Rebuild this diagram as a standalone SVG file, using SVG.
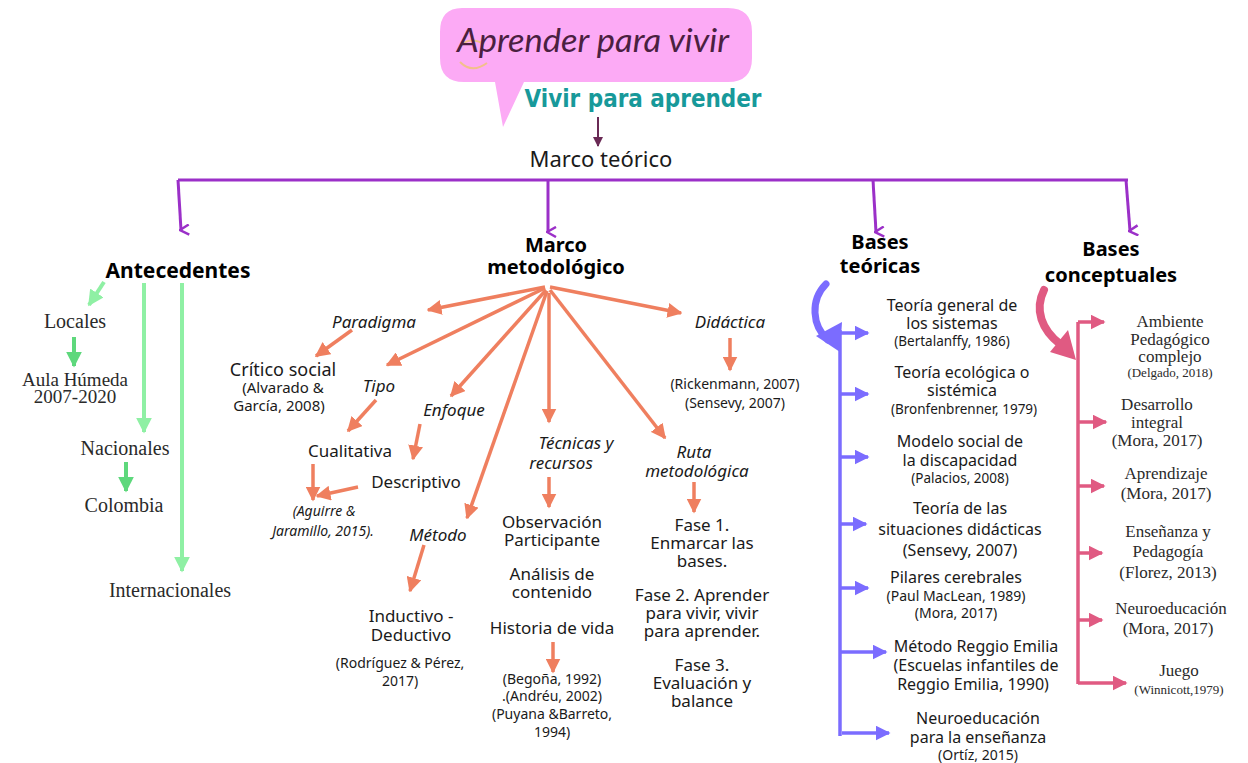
<svg xmlns="http://www.w3.org/2000/svg" width="1248" height="763" viewBox="0 0 1248 763">
<defs>
<style>
.s{font-family:"Noto Sans","Open Sans",sans-serif;fill:#1a1a1a;text-anchor:middle}
.b{font-family:"Noto Sans","Open Sans",sans-serif;font-weight:bold;fill:#000;text-anchor:middle}
.i{font-style:italic}
.sl{font-family:"Liberation Serif","DejaVu Serif",serif;fill:#2a2a2a;text-anchor:middle}
.pu{stroke:#9b30c8;stroke-width:3;fill:none}
.gl{stroke:#8ff0a4;stroke-width:4;fill:none}
.gd{stroke:#5ed87c;stroke-width:4;fill:none}
.sa{stroke:#ef7f5f;stroke-width:3.5;fill:none}
.bl{stroke:#7b6cff;stroke-width:3.5;fill:none}
.pk{stroke:#e05a82;stroke-width:3.5;fill:none}
</style>
<marker id="mpu" viewBox="0 0 12 12" refX="6" refY="10" markerWidth="12" markerHeight="12" markerUnits="userSpaceOnUse" orient="auto-start-reverse">
<path d="M1,2 L6,11 L11,2" fill="none" stroke="#9b30c8" stroke-width="2.5"/>
</marker>
<marker id="mdp" viewBox="0 0 10 10" refX="9" refY="5" markerWidth="10" markerHeight="10" markerUnits="userSpaceOnUse" orient="auto">
<path d="M0,0 L10,5 L0,10 Z" fill="#6a2a55"/>
</marker>
<marker id="mgl" viewBox="0 0 10 10" refX="9" refY="5" markerWidth="16" markerHeight="16" markerUnits="userSpaceOnUse" orient="auto">
<path d="M0,0 L10,5 L0,10 Z" fill="#8ff0a4"/>
</marker>
<marker id="mgd" viewBox="0 0 10 10" refX="9" refY="5" markerWidth="16" markerHeight="16" markerUnits="userSpaceOnUse" orient="auto">
<path d="M0,0 L10,5 L0,10 Z" fill="#5ed87c"/>
</marker>
<marker id="msa" viewBox="0 0 10 10" refX="9" refY="5" markerWidth="15" markerHeight="15" markerUnits="userSpaceOnUse" orient="auto">
<path d="M0,0 L10,5 L0,10 Z" fill="#ef7f5f"/>
</marker>
<marker id="mbl" viewBox="0 0 10 10" refX="9" refY="5" markerWidth="15" markerHeight="15" markerUnits="userSpaceOnUse" orient="auto">
<path d="M0,0 L10,5 L0,10 Z" fill="#7b6cff"/>
</marker>
<marker id="mpk" viewBox="0 0 10 10" refX="9" refY="5" markerWidth="15" markerHeight="15" markerUnits="userSpaceOnUse" orient="auto">
<path d="M0,0 L10,5 L0,10 Z" fill="#e05a82"/>
</marker>
</defs>
<rect width="1248" height="763" fill="#ffffff"/>

<g id="title">
<path d="M462,8 H728 Q752,8 752,32 V58 Q752,82 728,82 H524 L503,127 L495,82 H464 Q440,82 440,58 V32 Q440,8 462,8 Z" fill="#fcaaf5"/>
<path d="M460,46 Q470,36 484,44" fill="none" stroke="#f2c08a" stroke-width="2"/>
<path d="M460,62 Q472,74 487,63" fill="none" stroke="#f2c08a" stroke-width="2"/>
<text x="593" y="52" font-family="Lato,'Noto Sans',sans-serif" font-style="italic" font-size="32" fill="#4a2040" text-anchor="middle" textLength="272" lengthAdjust="spacingAndGlyphs">Aprender para vivir</text>
<text x="643" y="107" font-family="'DejaVu Sans',sans-serif" font-weight="bold" font-size="24" fill="#17999a" text-anchor="middle" textLength="237" lengthAdjust="spacingAndGlyphs">Vivir para aprender</text>
</g>

<g id="marco-teorico">
<text class="s" x="601" y="167" font-size="22">Marco teórico</text>
</g>

<g id="connectors">
<line x1="598" y1="117" x2="598" y2="146" stroke="#6a2a55" stroke-width="2" marker-end="url(#mdp)"/>
<path class="pu" d="M178,180 H1128"/>
<path class="pu" d="M178,180 L181,230" marker-end="url(#mpu)"/>
<path class="pu" d="M548,180 L548,232" marker-end="url(#mpu)"/>
<path class="pu" d="M873,180 L876,232" marker-end="url(#mpu)"/>
<path class="pu" d="M1126,180 L1130,231" marker-end="url(#mpu)"/>

<line class="gl" x1="104" y1="282" x2="89" y2="305" marker-end="url(#mgl)"/>
<line class="gd" x1="74" y1="337" x2="74" y2="366" marker-end="url(#mgd)"/>
<line class="gl" x1="144" y1="283" x2="144" y2="432" marker-end="url(#mgl)"/>
<line class="gd" x1="126" y1="462" x2="126" y2="491" marker-end="url(#mgd)"/>
<line class="gl" x1="182" y1="283" x2="182" y2="571" marker-end="url(#mgl)"/>

<line class="sa" x1="545" y1="287" x2="428" y2="310" marker-end="url(#msa)"/>
<line class="sa" x1="545" y1="288" x2="387" y2="365" marker-end="url(#msa)"/>
<line class="sa" x1="546" y1="290" x2="451" y2="396" marker-end="url(#msa)"/>
<line class="sa" x1="547" y1="291" x2="467" y2="518" marker-end="url(#msa)"/>
<line class="sa" x1="549" y1="293" x2="549" y2="422" marker-end="url(#msa)"/>
<line class="sa" x1="550" y1="290" x2="665" y2="438" marker-end="url(#msa)"/>
<line class="sa" x1="550" y1="287" x2="681" y2="313" marker-end="url(#msa)"/>

<line class="sa" x1="352" y1="330" x2="316" y2="356" marker-end="url(#msa)"/>
<line class="sa" x1="376" y1="400" x2="348" y2="431" marker-end="url(#msa)"/>
<line class="sa" x1="420" y1="424" x2="413" y2="459" marker-end="url(#msa)"/>
<line class="sa" x1="313" y1="464" x2="313" y2="500" marker-end="url(#msa)"/>
<line class="sa" x1="358" y1="487" x2="317" y2="496" marker-end="url(#msa)"/>
<line class="sa" x1="424" y1="545" x2="410" y2="591" marker-end="url(#msa)"/>
<line class="sa" x1="549" y1="477" x2="549" y2="507" marker-end="url(#msa)"/>
<line class="sa" x1="553" y1="642" x2="553" y2="672" marker-end="url(#msa)"/>
<line class="sa" x1="694" y1="482" x2="694" y2="512" marker-end="url(#msa)"/>
<line class="sa" x1="730" y1="338" x2="730" y2="370" marker-end="url(#msa)"/>

<path d="M826,284 C810,300 812,326 828,340" fill="none" stroke="#7b6cff" stroke-width="7" stroke-linecap="round"/>
<path d="M816,336 L842,322 L840,352 Z" fill="#7b6cff"/>
<line class="bl" x1="840" y1="330" x2="840" y2="736"/>
<line class="bl" x1="840" y1="333" x2="868" y2="333" marker-end="url(#mbl)"/>
<line class="bl" x1="840" y1="394" x2="868" y2="394" marker-end="url(#mbl)"/>
<line class="bl" x1="840" y1="457" x2="868" y2="457" marker-end="url(#mbl)"/>
<line class="bl" x1="840" y1="524" x2="866" y2="524" marker-end="url(#mbl)"/>
<line class="bl" x1="840" y1="588" x2="868" y2="588" marker-end="url(#mbl)"/>
<line class="bl" x1="840" y1="652" x2="886" y2="652" marker-end="url(#mbl)"/>
<line class="bl" x1="842" y1="733" x2="889" y2="733" marker-end="url(#mbl)"/>

<path d="M1044,290 C1034,310 1042,330 1060,344" fill="none" stroke="#e05a82" stroke-width="8" stroke-linecap="round"/>
<path d="M1050,352 L1068,330 L1076,360 Z" fill="#e05a82"/>
<line class="pk" x1="1078" y1="322" x2="1078" y2="684"/>
<line class="pk" x1="1078" y1="322" x2="1104" y2="322" marker-end="url(#mpk)"/>
<line class="pk" x1="1078" y1="422" x2="1106" y2="422" marker-end="url(#mpk)"/>
<line class="pk" x1="1078" y1="486" x2="1104" y2="486" marker-end="url(#mpk)"/>
<line class="pk" x1="1078" y1="553" x2="1102" y2="553" marker-end="url(#mpk)"/>
<line class="pk" x1="1078" y1="620" x2="1102" y2="620" marker-end="url(#mpk)"/>
<line class="pk" x1="1078" y1="683" x2="1126" y2="683" marker-end="url(#mpk)"/>
</g>

<g id="antecedentes">
<text class="b" x="178" y="278" font-size="21">Antecedentes</text>
</g>
<g id="locales"><text class="sl" x="75" y="328" font-size="20">Locales</text></g>
<g id="aula-humeda">
<text class="sl" x="75" y="386" font-size="19">Aula Húmeda</text>
<text class="sl" x="75" y="403" font-size="19">2007-2020</text>
</g>
<g id="nacionales"><text class="sl" x="125" y="455" font-size="20">Nacionales</text></g>
<g id="colombia"><text class="sl" x="124" y="512" font-size="20">Colombia</text></g>
<g id="internacionales"><text class="sl" x="170" y="597" font-size="20">Internacionales</text></g>

<g id="marco-metodologico">
<text class="b" x="556" y="252" font-size="20">Marco</text>
<text class="b" x="556" y="274" font-size="20">metodológico</text>
</g>
<g id="paradigma"><text class="s i" x="374" y="328" font-size="17">Paradigma</text></g>
<g id="critico-social">
<text class="s" x="283" y="376" font-size="18">Crítico social</text>
<text class="s" x="283" y="393" font-size="15">(Alvarado &amp;</text>
<text class="s" x="279" y="411" font-size="15">García, 2008)</text>
</g>
<g id="tipo"><text class="s i" x="379" y="392" font-size="17">Tipo</text></g>
<g id="enfoque"><text class="s i" x="454" y="416" font-size="17">Enfoque</text></g>
<g id="cualitativa"><text class="s" x="350" y="457" font-size="17">Cualitativa</text></g>
<g id="descriptivo"><text class="s" x="416" y="488" font-size="17">Descriptivo</text></g>
<g id="aguirre">
<text class="s i" x="324" y="516" font-size="14">(Aguirre &amp;</text>
<text class="s i" x="323" y="536" font-size="14">Jaramillo, 2015).</text>
</g>
<g id="metodo"><text class="s i" x="438" y="541" font-size="17">Método</text></g>
<g id="inductivo">
<text class="s" x="411" y="622" font-size="17">Inductivo -</text>
<text class="s" x="411" y="641" font-size="17">Deductivo</text>
<text class="s" x="400" y="668" font-size="14">(Rodríguez &amp; Pérez,</text>
<text class="s" x="400" y="686" font-size="14">2017)</text>
</g>
<g id="tecnicas">
<text class="s i" x="576" y="449" font-size="17">Técnicas y</text>
<text class="s i" x="561" y="469" font-size="17">recursos</text>
</g>
<g id="observacion">
<text class="s" x="552" y="528" font-size="17">Observación</text>
<text class="s" x="552" y="546" font-size="17">Participante</text>
</g>
<g id="analisis">
<text class="s" x="552" y="580" font-size="17">Análisis de</text>
<text class="s" x="552" y="598" font-size="17">contenido</text>
</g>
<g id="historia">
<text class="s" x="552" y="634" font-size="17">Historia de vida</text>
<text class="s" x="552" y="684" font-size="14">(Begoña, 1992)</text>
<text class="s" x="552" y="701" font-size="14">.(Andréu, 2002)</text>
<text class="s" x="552" y="719" font-size="14">(Puyana &amp;Barreto,</text>
<text class="s" x="552" y="737" font-size="14">1994)</text>
</g>
<g id="ruta">
<text class="s i" x="694" y="458" font-size="17">Ruta</text>
<text class="s i" x="697" y="477" font-size="17">metodológica</text>
</g>
<g id="fase1">
<text class="s" x="702" y="531" font-size="17">Fase 1.</text>
<text class="s" x="702" y="549" font-size="17">Enmarcar las</text>
<text class="s" x="702" y="567" font-size="17">bases.</text>
</g>
<g id="fase2">
<text class="s" x="702" y="601" font-size="17">Fase 2. Aprender</text>
<text class="s" x="702" y="619" font-size="17">para vivir, vivir</text>
<text class="s" x="702" y="637" font-size="17">para aprender.</text>
</g>
<g id="fase3">
<text class="s" x="702" y="671" font-size="17">Fase 3.</text>
<text class="s" x="702" y="689" font-size="17">Evaluación y</text>
<text class="s" x="702" y="707" font-size="17">balance</text>
</g>
<g id="didactica">
<text class="s i" x="730" y="328" font-size="17">Didáctica</text>
<text class="s" x="735" y="389" font-size="14">(Rickenmann, 2007)</text>
<text class="s" x="735" y="408" font-size="14">(Sensevy, 2007)</text>
</g>

<g id="bases-teoricas">
<text class="b" x="880" y="249" font-size="20">Bases</text>
<text class="b" x="880" y="273" font-size="20">teóricas</text>
</g>
<g id="bt1">
<text class="s" x="952" y="311" font-size="16">Teoría general de</text>
<text class="s" x="952" y="329" font-size="16">los sistemas</text>
<text class="s" x="952" y="346" font-size="13.5">(Bertalanffy, 1986)</text>
</g>
<g id="bt2">
<text class="s" x="962" y="378" font-size="16">Teoría ecológica o</text>
<text class="s" x="962" y="396" font-size="16">sistémica</text>
<text class="s" x="964" y="414" font-size="13.5">(Bronfenbrenner, 1979)</text>
</g>
<g id="bt3">
<text class="s" x="960" y="447" font-size="16">Modelo social de</text>
<text class="s" x="960" y="466" font-size="16">la discapacidad</text>
<text class="s" x="960" y="483" font-size="13.5">(Palacios, 2008)</text>
</g>
<g id="bt4">
<text class="s" x="960" y="514" font-size="16">Teoría de las</text>
<text class="s" x="960" y="535" font-size="16">situaciones didácticas</text>
<text class="s" x="960" y="556" font-size="16">(Sensevy, 2007)</text>
</g>
<g id="bt5">
<text class="s" x="956" y="583" font-size="16">Pilares cerebrales</text>
<text class="s" x="956" y="601" font-size="14">(Paul MacLean, 1989)</text>
<text class="s" x="956" y="618" font-size="14">(Mora, 2017)</text>
</g>
<g id="bt6">
<text class="s" x="976" y="652" font-size="16">Método Reggio Emilia</text>
<text class="s" x="976" y="671" font-size="16">(Escuelas infantiles de</text>
<text class="s" x="973" y="690" font-size="16">Reggio Emilia, 1990)</text>
</g>
<g id="bt7">
<text class="s" x="978" y="724" font-size="16">Neuroeducación</text>
<text class="s" x="978" y="743" font-size="16">para la enseñanza</text>
<text class="s" x="978" y="760" font-size="14">(Ortíz, 2015)</text>
</g>

<g id="bases-conceptuales">
<text class="b" x="1111" y="256" font-size="20">Bases</text>
<text class="b" x="1111" y="282" font-size="20">conceptuales</text>
</g>
<g id="bc1">
<text class="sl" x="1170" y="327" font-size="17">Ambiente</text>
<text class="sl" x="1170" y="345" font-size="17">Pedagógico</text>
<text class="sl" x="1170" y="362" font-size="17">complejo</text>
<text class="sl" x="1170" y="377" font-size="13">(Delgado, 2018)</text>
</g>
<g id="bc2">
<text class="sl" x="1157" y="410" font-size="17">Desarrollo</text>
<text class="sl" x="1157" y="428" font-size="17">integral</text>
<text class="sl" x="1157" y="446" font-size="17">(Mora, 2017)</text>
</g>
<g id="bc3">
<text class="sl" x="1166" y="479" font-size="17">Aprendizaje</text>
<text class="sl" x="1166" y="499" font-size="17">(Mora, 2017)</text>
</g>
<g id="bc4">
<text class="sl" x="1168" y="537" font-size="17">Enseñanza y</text>
<text class="sl" x="1168" y="557" font-size="17">Pedagogía</text>
<text class="sl" x="1168" y="578" font-size="17">(Florez, 2013)</text>
</g>
<g id="bc5">
<text class="sl" x="1171" y="614" font-size="17">Neuroeducación</text>
<text class="sl" x="1168" y="634" font-size="17">(Mora, 2017)</text>
</g>
<g id="bc6">
<text class="sl" x="1179" y="676" font-size="17">Juego</text>
<text class="sl" x="1179" y="694" font-size="13">(Winnicott,1979)</text>
</g>
</svg>
